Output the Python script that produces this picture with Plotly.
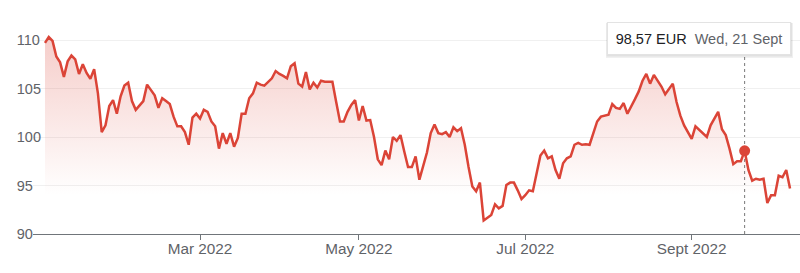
import pandas as pd
import plotly.graph_objects as go

# ---- data ----
holidays = ["2022-04-15", "2022-04-18"]
dates = pd.bdate_range("2022-01-03", "2022-10-07", freq="C", holidays=holidays)

prices = [
    109.7, 110.3, 109.9, 108.3, 107.7, 106.2, 107.8, 108.4, 108.0, 106.5,
    107.5, 106.6, 106.0, 107.0, 104.5, 100.5, 101.2, 103.2, 103.8, 102.4,
    104.2, 105.3, 105.6, 103.7, 102.8, 103.3, 103.7, 105.4, 104.9, 104.3,
    103.0, 104.0, 103.7, 103.4, 102.1, 101.1, 101.1, 100.5, 99.2, 102.0,
    102.4, 101.9, 102.8, 102.6, 101.6, 101.1, 98.8, 100.4, 99.3, 100.4,
    99.0, 99.9, 102.4, 102.4, 104.0, 104.5, 105.6, 105.4, 105.3, 105.7,
    106.05, 106.8, 106.5, 106.3, 106.05, 107.3, 107.6, 105.5, 105.2, 106.7,
    104.9, 105.6, 105.1, 105.8, 105.7, 105.7, 105.7, 103.6, 101.6, 101.6,
    102.6, 103.3, 103.8, 101.7, 103.2, 101.7, 101.75, 100.0, 97.7, 97.1,
    98.6, 97.7, 100.0, 99.6, 100.2, 98.5, 96.9, 96.9, 98.0, 95.6,
    97.1, 98.4, 100.4, 101.3, 100.4, 100.3, 100.5, 100.0, 101.0, 100.6,
    100.9, 99.2, 96.9, 94.9, 94.4, 95.3, 91.4, 91.7, 91.96, 93.06,
    92.65, 92.9, 95.05, 95.3, 95.3, 94.5, 93.6, 94.0, 94.5, 94.4,
    96.3, 98.1, 98.6, 97.8, 98.0, 96.6, 95.7, 97.3, 97.8, 98.0,
    99.2, 99.4, 99.2, 99.25, 99.2, 100.5, 101.6, 102.1, 102.2, 102.3,
    103.4, 103.0, 102.9, 103.5, 102.4, 103.1, 103.9, 104.7, 105.8, 106.5,
    105.5, 106.4, 105.8, 105.2, 104.4, 104.9, 105.5, 103.6, 102.2, 101.2,
    100.5, 99.8, 101.1, 100.7, 100.4, 100.0, 101.2, 101.9, 102.6, 100.8,
    100.2, 98.8, 97.2, 97.5, 97.5, 98.57, 96.6, 95.5, 95.7, 95.6,
    95.7, 93.2, 94.0, 94.0, 96.0, 95.85, 96.6, 94.7,
]

y_ticks = [90, 95, 100, 105, 110]
x_tick_dates = ["2022-03-01", "2022-05-02", "2022-07-01", "2022-09-01"]
x_tick_labels = ["Mar 2022", "May 2022", "Jul 2022", "Sept 2022"]

hover_date = "2022-09-21"
hover_value_text = "98,57 EUR"
hover_date_text = "Wed, 21 Sept"

# ---- layout geometry (pixels) ----
W, H = 800, 273
PLOT_TOP, PLOT_BOTTOM = 30, 234
PLOT_LEFT = 33
RED = "#db4437"
GREY_TXT = "#5f6368"
FONT = "Liberation Sans, Arial, sans-serif"

def py(p):
    return (PLOT_BOTTOM - p) / (PLOT_BOTTOM - PLOT_TOP)

def px(p):
    return p / W

hidx = list(dates.strftime("%Y-%m-%d")).index(hover_date)

fig = go.Figure()
fig.add_trace(go.Scatter(
    x=dates, y=prices, mode="lines",
    line=dict(color=RED, width=2.5),
    fill="tozeroy",
    fillgradient=dict(type="vertical",
                      colorscale=[[0, "rgba(219,68,55,0)"], [1, "rgba(219,68,55,0.27)"]],
                      start=94, stop=110.5),
    hoverinfo="skip",
))
fig.add_trace(go.Scatter(
    x=[dates[hidx]], y=[prices[hidx]], mode="markers",
    marker=dict(color=RED, size=11), hoverinfo="skip",
))

shapes = [
    dict(type="line", xref="x", yref="paper", x0=dates[hidx], x1=dates[hidx],
         y0=0, y1=py(55), line=dict(color="#777777", width=1, dash="dot"), layer="below"),
    dict(type="rect", xref="paper", yref="paper", x0=px(606), x1=px(793),
         y0=py(58), y1=py(23), fillcolor="rgba(0,0,0,0.06)", line=dict(width=0), layer="above"),
    dict(type="rect", xref="paper", yref="paper", x0=px(606.5), x1=px(792),
         y0=py(56.5), y1=py(22.5), fillcolor="rgba(0,0,0,0.06)", line=dict(width=0), layer="above"),
]

annotations = [
    dict(xref="paper", yref="paper", x=px(698.9), y=py(38.4), xanchor="center", yanchor="middle",
         text=f"<span style='color:#202124'>{hover_value_text}</span>\u00a0\u00a0"
              f"<span style='color:{GREY_TXT}'>{hover_date_text}</span>",
         showarrow=False, bgcolor="white", bordercolor="#e3e3e3", borderwidth=1,
         borderpad=4, width=174, height=23, font=dict(family=FONT, size=14.5)),
]

fig.update_layout(
    width=W, height=H,
    margin=dict(l=0, r=0, t=PLOT_TOP, b=H - PLOT_BOTTOM),
    paper_bgcolor="white", plot_bgcolor="white",
    showlegend=False,
    shapes=shapes, annotations=annotations,
    xaxis=dict(
        domain=[PLOT_LEFT / W, 1],
        type="date",
        range=["2021-12-28 20:00", "2022-10-11 15:20"],
        rangebreaks=[dict(bounds=["sat", "mon"]), dict(values=holidays)],
        tickvals=x_tick_dates, ticktext=x_tick_labels,
        showgrid=False, zeroline=False,
        showline=True, linecolor="#70757a", linewidth=1.2,
        ticks="outside", ticklen=5, tickcolor="#70757a", tickwidth=1,
        ticklabelstandoff=-4,
        tickfont=dict(family=FONT, size=15.3, color=GREY_TXT),
    ),
    yaxis=dict(
        range=[90, 90 + (PLOT_BOTTOM - PLOT_TOP) / 9.7],
        tickvals=y_ticks, ticktext=[str(v) for v in y_ticks],
        anchor="free", position=0.016, side="left",
        ticklabelposition="inside", ticklabeloverflow="allow",
        showgrid=True, gridcolor="#f0f0f0", gridwidth=1,
        zeroline=False, showline=False, ticks="",
        tickfont=dict(family=FONT, size=14.5, color=GREY_TXT),
    ),
)

fig.write_html("out.html")
